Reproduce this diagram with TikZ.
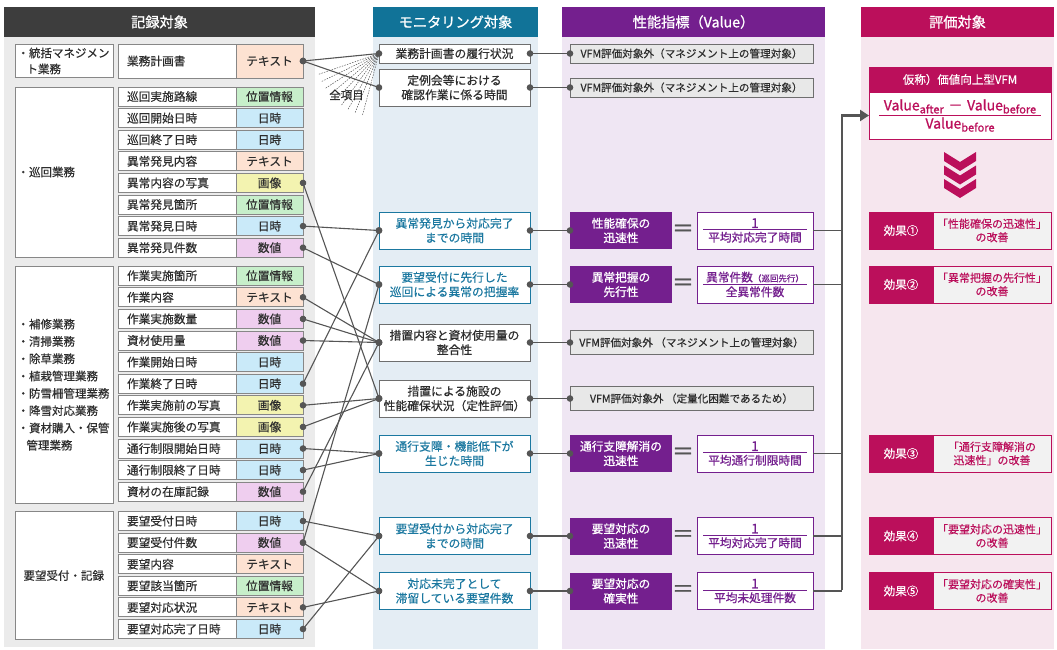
\documentclass[tikz,border=0pt]{standalone}
\usepackage{fontspec}
\setmainfont{Noto Sans CJK JP}[FakeBold=0.4]
\newfontfamily\hv{Noto Sans CJK JP}[FakeBold=1.0]
\usetikzlibrary{arrows.meta}
\definecolor{hdrK}{RGB}{61,61,61}
\definecolor{bgK}{RGB}{235,235,235}
\definecolor{hdrB}{RGB}{17,115,152}
\definecolor{bgB}{RGB}{228,237,244}
\definecolor{tealT}{RGB}{27,120,160}
\definecolor{hdrP}{RGB}{116,31,142}
\definecolor{bgP}{RGB}{239,230,243}
\definecolor{hdrM}{RGB}{187,15,91}
\definecolor{bgM}{RGB}{246,230,238}
\definecolor{bordG}{RGB}{135,135,135}
\definecolor{monB}{RGB}{110,110,110}
\definecolor{lineG}{RGB}{85,85,85}
\definecolor{cText}{RGB}{253,226,210}
\definecolor{cPos}{RGB}{199,239,202}
\definecolor{cTime}{RGB}{202,234,249}
\definecolor{cImg}{RGB}{243,243,176}
\definecolor{cNum}{RGB}{239,206,239}
\definecolor{vfmG}{RGB}{232,232,232}
\definecolor{effG}{RGB}{242,242,242}
\definecolor{txtK}{RGB}{45,45,45}
\newcommand\frc[3]{\vbox{\hbox to #1{\hfil#2\hfil}\kern1.5pt\hrule height 0.9pt\kern1.5pt\hbox to #1{\hfil#3\hfil}}}
\newcommand\one{{\fontsize{13.5}{14}\selectfont 1}}
\begin{document}
\begin{tikzpicture}[x=1pt,y=-1pt,
 every node/.style={inner sep=0pt, outer sep=0pt, text=txtK},
 hdr/.style={minimum height=30pt, text=white, font=\hv\fontsize{14.2}{16}\selectfont},
 cat/.style={draw=bordG, line width=0.9pt, fill=white, minimum width=98pt, text width=93pt, align=left, font=\fontsize{11.5}{16}\selectfont},
 nm/.style={draw=bordG, line width=0.9pt, fill=white, minimum width=118pt, minimum height=19pt, text width=100pt, align=left, font=\fontsize{11.7}{13}\selectfont},
 tp/.style={draw=bordG, line width=0.9pt, minimum width=67pt, minimum height=19pt, font=\fontsize{11.7}{13}\selectfont},
 mon/.style={draw, line width=1pt, fill=white, minimum width=151pt, minimum height=37pt, align=center, font=\fontsize{11.8}{14.5}\selectfont},
 monG/.style={mon, draw=monB},
 monT/.style={mon, draw=tealT, text=tealT},
 vfm/.style={draw=monB, line width=1pt, fill=vfmG, minimum width=243pt, minimum height=19pt, font=\fontsize{10.6}{12}\selectfont},
 pur/.style={fill=hdrP, text=white, minimum width=102pt, minimum height=37pt, align=center, font=\hv\fontsize{11.7}{14.5}\selectfont},
 frm/.style={draw=hdrP, line width=1pt, fill=white, text=hdrP, minimum width=116pt, minimum height=37pt, font=\hv\fontsize{11.7}{13}\selectfont},
 eqs/.style={text=lineG, font=\hv\fontsize{22}{22}\selectfont},
 effL/.style={draw=hdrM, line width=1pt, fill=hdrM, text=white, minimum width=64pt, minimum height=37pt, font=\fontsize{11.5}{13}\selectfont},
 effR/.style={draw=hdrM, line width=1pt, fill=effG, text=hdrM, minimum width=118pt, minimum height=37pt, align=center, font=\fontsize{11}{13.5}\selectfont},
 con/.style={draw=lineG, line width=1.1pt, {Circle[length=6.5pt,width=6.5pt]}-{Circle[length=6.5pt,width=6.5pt]}, shorten <=-3.25pt, shorten >=-3.25pt},
 bl/.style={draw=lineG, line width=1.6pt},
 busline/.style={draw=lineG, line width=2.7pt, -{Triangle[length=9pt,width=11pt]}},
 ray/.style={draw=lineG, line width=0.5pt, dash pattern=on 1.5pt off 1.2pt}
]
\useasboundingbox (0,0) rectangle (1057,649);
% panels
\fill[bgK] (4,37) rectangle (315,647);
\fill[bgB] (373,37) rectangle (538,649);
\fill[bgP] (562,37) rectangle (825,649);
\fill[bgM] (861,37) rectangle (1054,649);
\node[hdr, fill=hdrK, minimum width=311pt] (hK) at (159.5,22) {記録対象};
\node[hdr, fill=hdrB, minimum width=165pt] (hB) at (455.5,22) {モニタリング対象};
\node[hdr, fill=hdrP, minimum width=263pt] (hP) at (693.5,22) {性能指標（Value）};
\node[hdr, fill=hdrM, minimum width=193pt] (hM) at (957.5,22) {評価対象};
% categories
\node[cat, minimum height=33pt] (c1) at (64,61) {・統括マネジメン\\\hspace*{9pt}ト業務};
\node[cat, minimum height=170pt] (c2) at (64,172) {・巡回業務};
\node[cat, minimum height=236.5pt, font=\fontsize{11.5}{17.3}\selectfont] (c3) at (64,384.7) {・補修業務\\・清掃業務\\・除草業務\\・植栽管理業務\\・防雪柵管理業務\\・降雪対応業務\\・資材購入・保管\\\hspace*{9pt}管理業務};
\node[cat, minimum height=127.6pt] (c4) at (64,575.5) {\hspace*{6pt}要望受付・記録};
% items
\node[nm, minimum height=34pt] (n1) at (177,61) {業務計画書};
\node[tp, minimum height=34pt, fill=cText] (t1) at (269.5,61) {テキスト};
\foreach \i/\yy/\nm/\tc/\lb in {
 2/96.5/巡回実施路線/cPos/位置情報,
 3/118.1/巡回開始日時/cTime/日時,
 4/139.7/巡回終了日時/cTime/日時,
 5/161.3/異常発見内容/cText/テキスト,
 6/182.9/異常内容の写真/cImg/画像,
 7/204.5/異常発見箇所/cPos/位置情報,
 8/226.1/異常発見日時/cTime/日時,
 9/247.7/異常発見件数/cNum/数値,
 10/275.7/作業実施箇所/cPos/位置情報,
 11/297.3/作業内容/cText/テキスト,
 12/318.9/作業実施数量/cNum/数値,
 13/340.5/資材使用量/cNum/数値,
 14/362.1/作業開始日時/cTime/日時,
 15/383.7/作業終了日時/cTime/日時,
 16/405.3/作業実施前の写真/cImg/画像,
 17/426.9/作業実施後の写真/cImg/画像,
 18/448.5/通行制限開始日時/cTime/日時,
 19/470.1/通行制限終了日時/cTime/日時,
 20/491.7/資材の在庫記録/cNum/数値,
 21/521/要望受付日時/cTime/日時,
 22/542.6/要望受付件数/cNum/数値,
 23/564.2/要望内容/cText/テキスト,
 24/585.8/要望該当箇所/cPos/位置情報,
 25/607.4/要望対応状況/cText/テキスト,
 26/629/要望対応完了日時/cTime/日時}
{
 \node[nm] (n\i) at (177,\yy) {\nm};
 \node[tp, fill=\tc] (t\i) at (269.5,\yy) {\lb};
}
% monitoring
\node[monG, minimum height=19pt] (m1) at (454.5,53.5) {業務計画書の履行状況};
\node[monG] (m2) at (454.5,87.5) {定例会等における\\確認作業に係る時間};
\node[monT] (m3) at (454.5,230.5) {異常発見から対応完了\\までの時間};
\node[monT] (m4) at (454.5,284.5) {要望受付に先行した\\巡回による異常の把握率};
\node[monG] (m5) at (454.5,342.5) {措置内容と資材使用量の\\整合性};
\node[monG] (m6) at (454.5,398.5) {措置による施設の\\性能確保状況（定性評価）};
\node[monT] (m7) at (454.5,453.5) {通行支障・機能低下が\\生じた時間};
\node[monT] (m8) at (454.5,536) {要望受付から対応完了\\までの時間};
\node[monT] (m9) at (454.5,591) {対応未完了として\\滞留している要望件数};
% fan
\foreach \a in {105,112,...,161} \draw[ray] (m1.west) -- ++(\a:64);
\node[font=\fontsize{11.5}{13}\selectfont] (all) at (346.5,95) {全項目};
% performance
\node[vfm] (p1) at (691.5,53.5) {VFM評価対象外（マネジメント上の管理対象）};
\node[vfm] (p2) at (691.5,87.5) {VFM評価対象外（マネジメント上の管理対象）};
\node[pur] (p3) at (621,230.5) {性能確保の\\迅速性};
\node[pur] (p4) at (621,284.5) {異常把握の\\先行性};
\node[vfm, minimum height=24pt] (p5) at (691.5,342.5) {VFM評価対象外 （マネジメント上の管理対象）};
\node[vfm, minimum height=24pt] (p6) at (691.5,398.5) {VFM評価対象外 （定量化困難であるため）};
\node[pur] (p7) at (621,453.5) {通行支障解消の\\迅速性};
\node[pur] (p8) at (621,536) {要望対応の\\迅速性};
\node[pur] (p9) at (621,591) {要望対応の\\確実性};
\foreach \k/\yy in {3/230.5,4/284.5,7/453.5,8/536,9/591} \node[eqs] (q\k) at (683,\yy) {＝};
\node[frm] (f3) at (755,230.5) {\frc{104pt}{\one}{平均対応完了時間}};
\node[frm] (f4) at (755,284.5) {\frc{104pt}{異常件数{\fontsize{8.5}{9}\selectfont （巡回先行）}}{全異常件数}};
\node[frm] (f7) at (755,453.5) {\frc{104pt}{\one}{平均通行制限時間}};
\node[frm] (f8) at (755,536) {\frc{104pt}{\one}{平均対応完了時間}};
\node[frm] (f9) at (755,591) {\frc{104pt}{\one}{平均未処理件数}};
% evaluation
\node[draw=hdrM, line width=1pt, fill=hdrM, text=white, minimum width=182pt, minimum height=25pt, font=\fontsize{11.5}{13}\selectfont] (vh) at (960,79.5) {仮称）価値向上型VFM};
\node[draw=hdrM, line width=1pt, fill=white, text=hdrM, minimum width=182pt, minimum height=47pt, font=\hv\fontsize{14}{16}\selectfont] (vb) at (960,115.5) {\frc{162pt}{Value{\fontsize{11}{12}\selectfont\raisebox{-3pt}{after}}\,\,－\,\,Value{\fontsize{11}{12}\selectfont\raisebox{-3pt}{before}}}{Value{\fontsize{11}{12}\selectfont\raisebox{-3pt}{before}}}};
\foreach \y in {152,165.5,179} \fill[hdrM] (944,\y) -- (960,\y+10) -- (976,\y) -- (976,\y+9) -- (960,\y+19) -- (944,\y+9) -- cycle;
\foreach \k/\yy/\tx in {1/230.5/{「性能確保の迅速性」\\の改善},2/284.5/{「異常把握の先行性」\\の改善},3/453.5/{「通行支障解消の\\迅速性」の改善},4/536/{「要望対応の迅速性」\\の改善},5/591/{「要望対応の確実性」\\の改善}}
{
 \node[effR] (r\k) at (992,\yy) {\tx};
}
\node[effL] (e1) at (901,230.5) {効果①};
\node[effL] (e2) at (901,284.5) {効果②};
\node[effL] (e3) at (901,453.5) {効果③};
\node[effL] (e4) at (901,536) {効果④};
\node[effL] (e5) at (901,591) {効果⑤};
% connectors left -> monitoring
\draw[con] (t1.east) -- (m1.west);
\draw[con] (t1.east) -- (m2.west);
\draw[con] (t6.east) -- (m6.west);
\draw[con] (t8.east) -- (m3.west);
\draw[con] (t15.east) -- (m3.west);
\draw[con] (t9.east) -- (m4.west);
\draw[con] (t22.east) -- (m4.west);
\draw[con] (t11.east) -- (m5.west);
\draw[con] (t12.east) -- (m5.west);
\draw[con] (t13.east) -- (m5.west);
\draw[con] (t20.east) -- (m5.west);
\draw[con] (t16.east) -- (m6.west);
\draw[con] (t17.east) -- (m6.west);
\draw[con] (t18.east) -- (m7.west);
\draw[con] (t19.east) -- (m7.west);
\draw[con] (t21.east) -- (m8.west);
\draw[con] (t26.east) -- (m8.west);
\draw[con] (t22.east) -- (m9.west);
\draw[con] (t25.east) -- (m9.west);
% monitoring -> performance
\foreach \k in {1,...,9} \draw[con] (m\k.east) -- (p\k.west);
% performance -> evaluation
\coordinate (bus) at (842,0);
\foreach \k in {3,4,7,8} \draw[bl] (f\k.east) -- (f\k.east -| bus);
\draw[bl] (f9.east) -- (f9.east -| bus);
\draw[busline] ([yshift=0.8pt]f9.east -| bus) -- (vb.west -| bus) -- (vb.west);
\end{tikzpicture}
\end{document}
